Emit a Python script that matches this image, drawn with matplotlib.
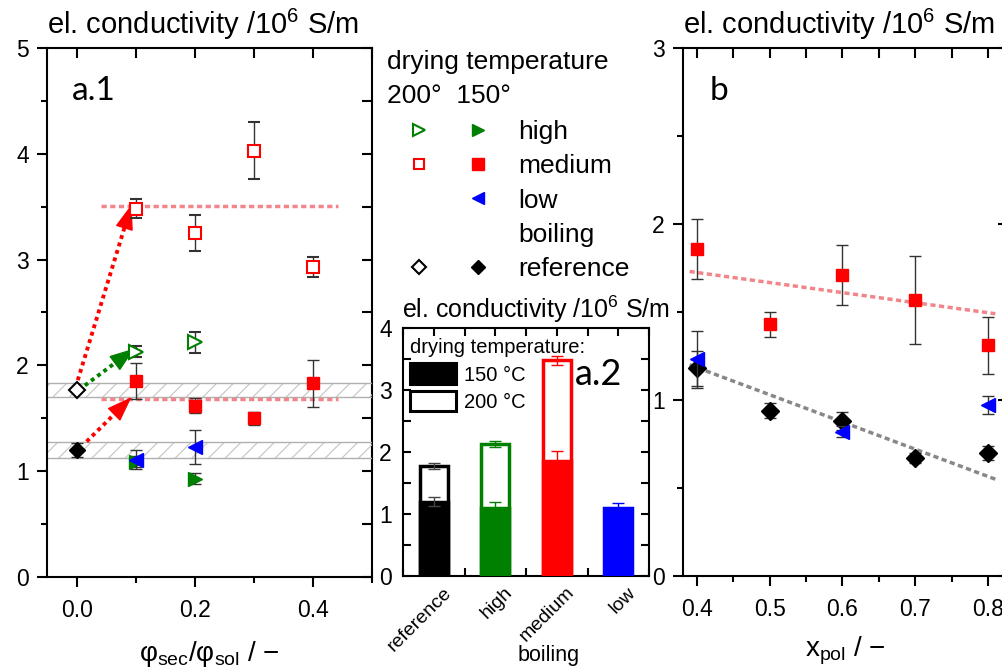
import numpy as np
import matplotlib
matplotlib.use("Agg")
import matplotlib.pyplot as plt
import matplotlib.transforms as mtransforms
from matplotlib.lines import Line2D
from matplotlib.patches import Patch
from matplotlib.legend_handler import HandlerTuple
from matplotlib.ticker import MultipleLocator

plt.rcParams['font.family'] = ['Liberation Sans', 'DejaVu Sans']
plt.rcParams['mathtext.fontset'] = 'custom'
plt.rcParams['mathtext.rm'] = 'Liberation Sans'
plt.rcParams['mathtext.it'] = 'Liberation Sans:italic'
plt.rcParams['hatch.linewidth'] = 0.8

# ---- panel a.1: conductivity vs phi_sec/phi_sol ----
phi = [0.1, 0.2, 0.3, 0.4]
med200 = [3.48, 3.25, 4.03, 2.93]
med200_err = [0.09, 0.17, 0.27, 0.09]
med150 = [1.85, 1.62, 1.50, 1.83]
med150_err = [0.17, 0.07, 0.06, 0.22]
phi_high = [0.1, 0.2]
high200 = [2.13, 2.22]
high200_err = [0.05, 0.10]
high150 = [1.09, 0.93]
high150_err = [0.05, 0.05]
phi_low = [0.1, 0.2]
low150 = [1.11, 1.23]
low150_err = [0.09, 0.16]
ref200 = [1.77]
ref150 = [1.20]
ref150_err = [0.07]
bands = [(1.70, 1.83), (1.12, 1.28)]
plateaus = [3.51, 1.68]
plateau_x = [0.042, 0.443]
# arrows: (start, tip, colour)
arrows = [((0.002, 1.86), (0.093, 3.52), 'red'),
          ((0.014, 1.81), (0.098, 2.16), 'green'),
          ((0.017, 1.28), (0.093, 1.70), 'red')]

# ---- panel a.2: bar chart ----
cats = ['reference', 'high', 'medium', 'low']
bar150 = [1.20, 1.10, 1.86, 1.10]
err150 = [0.07, 0.09, 0.16, 0.08]
bar200 = [1.77, 2.13, 3.48, np.nan]
err200 = [0.045, 0.05, 0.075, np.nan]
bar_colors = ['black', 'green', 'red', 'blue']

# ---- panel b: conductivity vs x_pol ----
xpol = [0.4, 0.5, 0.6, 0.7, 0.8]
b_med = [1.86, 1.43, 1.71, 1.57, 1.31]
b_med_err = [0.17, 0.07, 0.17, 0.25, 0.16]
b_ref = [1.18, 0.94, 0.88, 0.67, 0.70]
b_ref_err = [0.10, 0.04, 0.05, 0.03, 0.04]
xpol_low = [0.4, 0.6, 0.8]
b_low = [1.23, 0.82, 0.97]
b_low_err = [0.16, 0.03, 0.05]
trend_x = [0.39, 0.81]
trend_med = [1.73, 1.49]
trend_ref = [1.20, 0.55]

SALMON = '#f28589'
ylab = r'el. conductivity /10$^{6}$ S/m'
FS = 16.5     # tick labels
TFS = 21      # axis titles on top
LFS = 19      # symbol legend

fig = plt.figure(figsize=(10.03, 6.72), dpi=100)


def frame(ax, xmaj, xmin, ymaj, ymin, rminor_len=7):
    for s in ax.spines.values():
        s.set_linewidth(1.5)
    ax.spines['top'].set_visible(False)
    ax.spines['right'].set_visible(False)
    ax.xaxis.set_major_locator(MultipleLocator(xmaj))
    ax.xaxis.set_minor_locator(MultipleLocator(xmin))
    ax.yaxis.set_major_locator(MultipleLocator(ymaj))
    ax.yaxis.set_minor_locator(MultipleLocator(ymin))
    ax.tick_params(which='major', direction='out', length=7, width=1.5, labelsize=FS)
    ax.tick_params(which='minor', direction='out', length=4, width=1.5)
    ax.tick_params(axis='x', pad=9)
    ax.tick_params(axis='y', pad=6)
    top = ax.secondary_xaxis('top')
    top.xaxis.set_major_locator(MultipleLocator(xmin))
    top.tick_params(direction='in', length=7, width=1.5, labeltop=False)
    top.spines['top'].set_linewidth(1.5)
    right = ax.secondary_yaxis('right')
    right.yaxis.set_major_locator(MultipleLocator(ymaj))
    right.yaxis.set_minor_locator(MultipleLocator(ymin))
    right.tick_params(which='major', direction='in', length=7, width=1.5, labelright=False)
    right.tick_params(which='minor', direction='in', length=rminor_len, width=1.5)
    right.spines['right'].set_linewidth(1.5)


ebkw = dict(linestyle='none', ecolor='#333333', elinewidth=1, capsize=4, capthick=1)

# ---------------- a.1 ----------------
ax1 = fig.add_axes([0.0469, 0.1414, 0.3240, 0.7872])
ax1.set_xlim(-0.05, 0.5)
ax1.set_ylim(0, 5)
frame(ax1, 0.2, 0.1, 1, 0.5)
ax1.xaxis.set_major_formatter(lambda v, p: f'{v:.1f}')

for lo, hi in bands:
    ax1.axhspan(lo, hi, facecolor='none', edgecolor='#c4c4c4', hatch='//', linewidth=0, zorder=1)
    ax1.axhline(lo, color='#b0b0b0', lw=1, zorder=1)
    ax1.axhline(hi, color='#b0b0b0', lw=1, zorder=1)
for yv in plateaus:
    ax1.plot(plateau_x, [yv, yv], color=SALMON, lw=2.5, dashes=(1.5, 1), zorder=2)

# dotted shaft + solid triangular head
HEAD_PX = 22
for (x0, y0), (x1, y1), c in arrows:
    p0 = ax1.transData.transform((x0, y0))
    p1 = ax1.transData.transform((x1, y1))
    d = (p1 - p0) / np.hypot(*(p1 - p0))
    base = ax1.transData.inverted().transform(p1 - d * HEAD_PX)
    ax1.plot([x0, base[0]], [y0, base[1]], color=c, lw=2.8, dashes=(1, 1), zorder=3)
    ax1.annotate('', xy=(x1, y1), xytext=tuple(base),
                 arrowprops=dict(arrowstyle='-|>,head_length=1.0,head_width=0.36',
                                 color=c, lw=1, mutation_scale=16,
                                 shrinkA=0, shrinkB=0), zorder=3)

ax1.errorbar(phi, med200, yerr=med200_err, marker='s', ms=8.5, mfc='white', mec='red',
             mew=1.5, zorder=4, **ebkw)
ax1.errorbar(phi, med150, yerr=med150_err, marker='s', ms=9, mfc='red', mec='red',
             zorder=4, **ebkw)
ax1.errorbar(phi_high, high200, yerr=high200_err, marker='>', ms=10, mfc='white', mec='green',
             mew=1.5, zorder=4, **ebkw)
ax1.errorbar(phi_high, high150, yerr=high150_err, marker='>', ms=10, mfc='green', mec='green',
             zorder=4, **ebkw)
ax1.errorbar(phi_low, low150, yerr=low150_err, marker='<', ms=10, mfc='blue', mec='blue',
             zorder=5, **ebkw)
ax1.errorbar([0.0], ref150, yerr=ref150_err, marker='D', ms=8, mfc='black', mec='black',
             zorder=5, **ebkw)
ax1.plot([0.0], ref200, marker='D', ms=8, mfc='white', mec='black', mew=1.5,
         ls='none', zorder=5)

ax1.text(0.0, 1.012, ylab, transform=ax1.transAxes, fontsize=TFS, ha='left', va='bottom')
ax1.text(0.075, 0.902, 'a.1', transform=ax1.transAxes, fontsize=24, family='Lato')
ax1.set_xlabel(r'$\mathrm{φ_{sec}/φ_{sol}}$ / −', fontsize=20, labelpad=12)

# legend for a.1 / b symbols
fig.text(387 / 1003, 1 - 62 / 672, 'drying temperature', fontsize=LFS, va='center')
fig.text(387 / 1003, 1 - 96 / 672, '200°  150°', fontsize=LFS, va='center')
blank = Line2D([], [], ls='none', marker='None')
handles = [
    (Line2D([], [], ls='none', marker='>', ms=9, mfc='white', mec='green', mew=1.5),
     Line2D([], [], ls='none', marker='>', ms=9, mfc='green', mec='green')),
    (Line2D([], [], ls='none', marker='s', ms=7, mfc='white', mec='red', mew=1.5),
     Line2D([], [], ls='none', marker='s', ms=8, mfc='red', mec='red')),
    (blank, Line2D([], [], ls='none', marker='<', ms=9, mfc='blue', mec='blue')),
    (blank, blank),
    (Line2D([], [], ls='none', marker='D', ms=7, mfc='white', mec='black', mew=1.5),
     Line2D([], [], ls='none', marker='D', ms=7, mfc='black', mec='black')),
]
labels = ['high', 'medium', 'low', 'boiling', 'reference']
fig.legend(handles, labels, handler_map={tuple: HandlerTuple(ndivide=None, pad=0)},
           loc='upper left', bbox_to_anchor=(389.5 / 1003, 1 - 120 / 672),
           frameon=False, fontsize=LFS, handlelength=4.47, handletextpad=0.4,
           labelspacing=0.39, borderpad=0, borderaxespad=0)

# ---------------- a.2 (bars) ----------------
ax2 = fig.add_axes([0.4018, 0.1429, 0.2453, 0.3690])
xb = np.arange(len(cats))
ax2.bar(xb, bar200, width=0.45, color='white', edgecolor=bar_colors, linewidth=2.5, zorder=2)
ax2.bar(xb, bar150, width=0.45, color=bar_colors, edgecolor=bar_colors, linewidth=2.5, zorder=3)
for i in range(len(cats)):
    ec = '#444444' if bar_colors[i] == 'black' else bar_colors[i]
    ax2.errorbar(xb[i], bar150[i], yerr=err150[i], ls='none', ecolor=ec, elinewidth=1,
                 capsize=4, capthick=1, zorder=4)
    if not np.isnan(bar200[i]):
        ax2.errorbar(xb[i], bar200[i], yerr=err200[i], ls='none', ecolor=ec, elinewidth=1,
                     capsize=4, capthick=1, zorder=4)
ax2.set_xlim(-0.5, 3.5)
ax2.set_ylim(0, 4)
for s in ax2.spines.values():
    s.set_linewidth(1.5)
ax2.yaxis.set_major_locator(MultipleLocator(1))
ax2.yaxis.set_minor_locator(MultipleLocator(0.5))
ax2.xaxis.set_minor_locator(MultipleLocator(0.5))
ax2.set_xticks(xb, cats, rotation=45, ha='right', va='center', rotation_mode='anchor')
ax2.tick_params(which='both', direction='in', top=True, right=True, width=1.5, length=6)
ax2.tick_params(axis='y', labelsize=FS, pad=8)
ax2.tick_params(axis='x', labelsize=14, pad=10)
shift = mtransforms.ScaledTranslation(15 / 100, 0, fig.dpi_scale_trans)
for lbl in ax2.get_xticklabels():
    lbl.set_transform(lbl.get_transform() + shift)
ax2.set_xlabel('boiling', fontsize=15.5)
ax2.xaxis.set_label_coords(0.59, -0.28)
ax2.text(-0.005, 1.012, ylab, transform=ax2.transAxes, fontsize=18, ha='left', va='bottom')
ax2.text(0.70, 0.77, 'a.2', transform=ax2.transAxes, fontsize=26, family='Lato')
ax2.legend([Patch(facecolor='black', edgecolor='black', lw=2.2),
            Patch(facecolor='white', edgecolor='black', lw=2.2)],
           ['150 °C', '200 °C'], title='drying temperature:', title_fontsize=14.5,
           fontsize=14.5, loc='upper left', bbox_to_anchor=(0.028, 0.958),
           frameon=False, alignment='left',
           handlelength=2.3, handleheight=1.2, handletextpad=0.4, labelspacing=0.3,
           borderaxespad=0, borderpad=0)

# ---------------- b ----------------
ax3 = fig.add_axes([0.6810, 0.1429, 0.3240, 0.7857])
ax3.set_xlim(0.381, 0.8275)
ax3.set_ylim(0, 3)
frame(ax3, 0.1, 0.05, 1, 0.5, rminor_len=3)
ax3.xaxis.set_major_formatter(lambda v, p: f'{v:.1f}')
ax3.plot(trend_x, trend_med, color=SALMON, lw=2.5, dashes=(1.5, 1), zorder=2)
ax3.plot(trend_x, trend_ref, color='#888888', lw=2.5, dashes=(1.5, 1), zorder=2)
ax3.errorbar(xpol, b_med, yerr=b_med_err, marker='s', ms=9, mfc='red', mec='red', zorder=4, **ebkw)
ax3.errorbar(xpol, b_ref, yerr=b_ref_err, marker='D', ms=9, mfc='black', mec='black', zorder=4, **ebkw)
ax3.errorbar(xpol_low, b_low, yerr=b_low_err, marker='<', ms=10, mfc='blue', mec='blue', zorder=5, **ebkw)
ax3.text(0.0, 1.012, ylab, transform=ax3.transAxes, fontsize=TFS, ha='left', va='bottom')
ax3.text(0.083, 0.902, 'b', transform=ax3.transAxes, fontsize=24, family='Lato')
ax3.set_xlabel(r'$\mathrm{x_{pol}}$ / −', fontsize=20, labelpad=10)

fig.savefig('out.png', dpi=100)
